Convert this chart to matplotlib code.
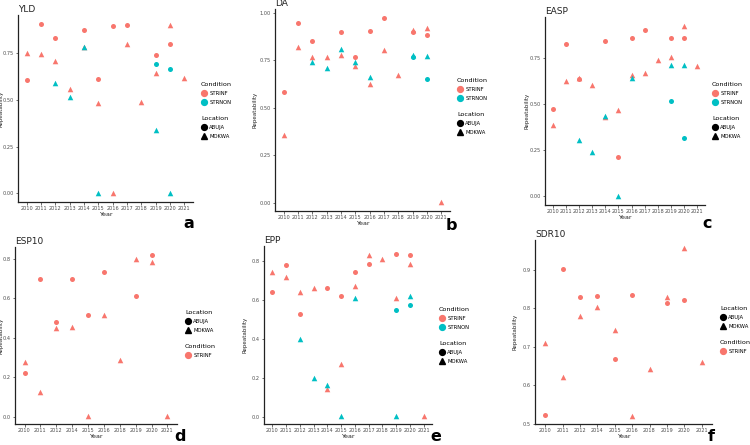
import matplotlib.pyplot as plt
from matplotlib.lines import Line2D
from matplotlib.legend import Legend

# colours / shapes (ggplot defaults)
cond_col = {"STRINF": "#F8766D", "STRNON": "#00BFC4"}
loc_mark = {"ABUJA": "o", "MOKWA": "^"}
# group codes: I = STRINF, N = STRNON, A = ABUJA, M = MOKWA
codes = {"IA": ("STRINF", "ABUJA"), "IM": ("STRINF", "MOKWA"),
         "NA": ("STRNON", "ABUJA"), "NM": ("STRNON", "MOKWA")}

years_all = [2010, 2011, 2012, 2013, 2014, 2015, 2016, 2017, 2018, 2019, 2020, 2021]
years_short = [2010, 2011, 2012, 2014, 2015, 2016, 2018, 2019, 2020, 2021]

# YLD
yld_yr = [2010, 2010, 2011, 2011, 2012, 2012, 2012, 2013, 2013, 2014, 2014, 2014,
          2015, 2015, 2015, 2016, 2016, 2017, 2017, 2018, 2019, 2019, 2019, 2019,
          2020, 2020, 2020, 2020, 2021]
yld_grp = ["IA", "IM", "IA", "IM", "IA", "IM", "NM", "IM", "NM", "IA", "NM", "IM",
           "IA", "IM", "NM", "IA", "IM", "IA", "IM", "IM", "IA", "NA", "IM", "NM",
           "IA", "NA", "IM", "NM", "IM"]
yld_val = [0.605, 0.752, 0.908, 0.746, 0.828, 0.706, 0.589, 0.559, 0.518, 0.871, 0.78, 0.782,
           0.612, 0.484, 0.0, 0.892, 0.0, 0.90, 0.80, 0.489, 0.739, 0.691, 0.645, 0.339,
           0.796, 0.663, 0.90, 0.0, 0.619]

# DA
da_yr = [2010, 2010, 2011, 2011, 2012, 2012, 2012, 2013, 2013, 2014, 2014, 2014,
         2015, 2015, 2015, 2016, 2016, 2016, 2017, 2017, 2018, 2019, 2019, 2019, 2019,
         2020, 2020, 2020, 2020, 2021]
da_grp = ["IA", "IM", "IA", "IM", "IA", "IM", "NM", "IM", "NM", "IA", "NM", "IM",
          "IA", "NM", "IM", "IA", "NM", "IM", "IA", "IM", "IM", "IM", "IA", "NM", "NA",
          "IM", "IA", "NM", "NA", "IM"]
da_val = [0.581, 0.355, 0.945, 0.822, 0.852, 0.769, 0.742, 0.767, 0.708, 0.899, 0.811, 0.779,
          0.765, 0.740, 0.721, 0.906, 0.661, 0.624, 0.972, 0.804, 0.671, 0.912, 0.898, 0.779, 0.767,
          0.92, 0.885, 0.774, 0.652, 0.005]

# EASP
easp_yr = [2010, 2010, 2011, 2011, 2012, 2012, 2012, 2013, 2013, 2014, 2014, 2014,
           2015, 2015, 2015, 2016, 2016, 2016, 2017, 2017, 2018, 2019, 2019, 2019, 2019,
           2020, 2020, 2020, 2020, 2021]
easp_grp = ["IA", "IM", "IA", "IM", "IA", "IM", "NM", "IM", "NM", "IA", "IM", "NM",
            "IA", "IM", "NM", "IA", "IM", "NM", "IA", "IM", "IM", "IA", "IM", "NM", "NA",
            "IM", "IA", "NM", "NA", "IM"]
easp_val = [0.473, 0.388, 0.824, 0.622, 0.635, 0.643, 0.306, 0.601, 0.241, 0.84, 0.432, 0.435,
            0.214, 0.469, 0.0, 0.858, 0.656, 0.642, 0.90, 0.669, 0.737, 0.856, 0.755, 0.708, 0.518,
            0.924, 0.858, 0.712, 0.318, 0.703]

# ESP10
esp_yr = [2010, 2010, 2011, 2011, 2012, 2012, 2014, 2014, 2015, 2015, 2016, 2016,
          2018, 2019, 2019, 2020, 2020, 2021]
esp_grp = ["IM", "IA", "IA", "IM", "IA", "IM", "IA", "IM", "IA", "IM", "IA", "IM",
           "IM", "IM", "IA", "IA", "IM", "IM"]
esp_val = [0.279, 0.223, 0.70, 0.124, 0.482, 0.451, 0.70, 0.455, 0.517, 0.005, 0.732, 0.515,
           0.287, 0.80, 0.614, 0.82, 0.785, 0.005]

# EPP
epp_yr = [2010, 2010, 2011, 2011, 2012, 2012, 2012, 2013, 2013, 2014, 2014, 2014,
          2015, 2015, 2015, 2016, 2016, 2016, 2017, 2017, 2018, 2019, 2019, 2019, 2019,
          2020, 2020, 2020, 2020, 2021]
epp_grp = ["IM", "IA", "IA", "IM", "IM", "IA", "NM", "IM", "NM", "IA", "IM", "NM",
           "IA", "IM", "NM", "IA", "IM", "NM", "IM", "IA", "IM", "IA", "IM", "NA", "NM",
           "IA", "IM", "NM", "NA", "IM"]
epp_val = [0.742, 0.643, 0.778, 0.718, 0.641, 0.526, 0.402, 0.662, 0.198, 0.66, 0.144, 0.162,
           0.619, 0.27, 0.005, 0.742, 0.672, 0.609, 0.831, 0.785, 0.81, 0.836, 0.612, 0.55, 0.005,
           0.833, 0.783, 0.622, 0.574, 0.005]

# SDR10
sdr_yr = [2010, 2010, 2011, 2011, 2012, 2012, 2014, 2014, 2015, 2015, 2016, 2016,
          2018, 2019, 2019, 2020, 2020, 2021]
sdr_grp = ["IM", "IA", "IA", "IM", "IA", "IM", "IA", "IM", "IM", "IA", "IA", "IM",
           "IM", "IM", "IA", "IM", "IA", "IM"]
sdr_val = [0.710, 0.524, 0.902, 0.623, 0.83, 0.781, 0.832, 0.805, 0.745, 0.670, 0.836, 0.522,
           0.644, 0.831, 0.814, 0.956, 0.823, 0.660]

W, H = 750, 445
fig = plt.figure(figsize=(7.5, 4.45), dpi=100)


def px(x0, y0, w, h):
    return [x0 / W, 1 - (y0 + h) / H, w / W, h / H]


def panel(rect, title, cats, yr, grp, val, ticks, fmt, letter, letter_xy, leg_xy, cond_first):
    ax = fig.add_axes(px(*rect))
    for code in ["IA", "IM", "NA", "NM"]:
        xs = [cats.index(y) for y, g in zip(yr, grp) if g == code]
        ys = [v for v, g in zip(val, grp) if g == code]
        if not xs:
            continue
        c, l = codes[code]
        s = 13 if l == "ABUJA" else 16
        ax.scatter(xs, ys, s=s, marker=loc_mark[l], color=cond_col[c], linewidths=0, zorder=3)
    lo, hi = min(val), max(val)
    pad = (hi - lo) * 0.05
    ax.set_ylim(lo - pad, hi + pad)
    ax.set_xlim(-0.6, len(cats) - 0.4)
    ax.set_xticks(range(len(cats)))
    ax.set_xticklabels([str(c) for c in cats])
    ax.set_yticks(ticks)
    ax.set_yticklabels([fmt.format(t) for t in ticks])
    for sp in ["top", "right"]:
        ax.spines[sp].set_visible(False)
    for sp in ["left", "bottom"]:
        ax.spines[sp].set_linewidth(0.9)
        ax.spines[sp].set_color("#222222")
    ax.tick_params(labelsize=3.6, length=1.8, width=0.5, colors="#333333", pad=1.2,
                   labelcolor="#4D4D4D")
    ax.set_xlabel("Year", fontsize=4.6, labelpad=0.5, color="#222222")
    ax.set_ylabel("Repeatability", fontsize=4.0, color="#222222")
    # left-hand panels: put the y label right at the figure edge
    if rect[0] < 30:
        ax.yaxis.set_label_coords((4 - rect[0]) / rect[2], 0.5)
    else:
        ax.yaxis.set_label_coords(-0.1, 0.5)
    ax.set_title(title, fontsize=6.5, loc="left", pad=2.5, color="#222222")
    fig.text(letter_xy[0] / W, 1 - letter_xy[1] / H, letter, fontsize=11.5,
             fontweight="bold", ha="center", va="bottom")

    conds = sorted(set(codes[g][0] for g in grp))
    cond_h = [Line2D([], [], ls="", marker="o", ms=4.2, color=cond_col[c]) for c in conds]
    loc_h = [Line2D([], [], ls="", marker=loc_mark[l], ms=4.2, color="black")
             for l in ["ABUJA", "MOKWA"]]
    blocks = [("Condition", cond_h, conds), ("Location", loc_h, ["ABUJA", "MOKWA"])]
    if not cond_first:
        blocks = blocks[::-1]
    yy = leg_xy[1]
    for name, hs, labs in blocks:
        leg = Legend(ax, hs, labs, title=name, loc="upper left",
                     bbox_to_anchor=(leg_xy[0] / W, 1 - yy / H),
                     bbox_transform=fig.transFigure, frameon=False,
                     fontsize=3.8, title_fontsize=4.6, alignment="left",
                     handletextpad=0.4, labelspacing=0.75, borderaxespad=0,
                     borderpad=0, handlelength=1.2)
        ax.add_artist(leg)
        yy += 10 + 8.5 * len(labs) + 7
    return ax


panel((18, 15, 175, 187), "YLD", years_all, yld_yr, yld_grp, yld_val,
      [0, 0.25, 0.5, 0.75], "{:.2f}", "a", (189, 231), (201, 82), True)
panel((275, 9, 175, 202), "DA", years_all, da_yr, da_grp, da_val,
      [0, 0.25, 0.5, 0.75, 1.0], "{:.2f}", "b", (451, 233), (457, 78), True)
panel((545, 17, 160, 188), "EASP", years_all, easp_yr, easp_grp, easp_val,
      [0, 0.25, 0.5, 0.75], "{:.2f}", "c", (707, 231), (712, 82), True)
panel((15, 247, 162, 177), "ESP10", years_short, esp_yr, esp_grp, esp_val,
      [0, 0.2, 0.4, 0.6, 0.8], "{:.1f}", "d", (180, 444), (185, 310), False)
panel((264, 246, 168, 178), "EPP", years_all, epp_yr, epp_grp, epp_val,
      [0, 0.2, 0.4, 0.6, 0.8], "{:.1f}", "e", (436, 444), (439, 307), True)
panel((535, 240, 177, 184), "SDR10", years_short, sdr_yr, sdr_grp, sdr_val,
      [0.5, 0.6, 0.7, 0.8, 0.9], "{:.1f}", "f", (711, 444), (720, 306), False)

fig.savefig("out.png", dpi=100)
